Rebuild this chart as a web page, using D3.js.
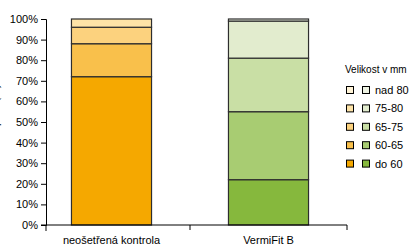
<!DOCTYPE html>
<html>
<script src="https://d3js.org/d3.v7.min.js"></script>
<style>
    body { margin: 0; background: #fff; }
    text { font-family: "Liberation Sans", Arial, sans-serif; fill: #000; }
</style>
<body></body>
<script>
    const width = 416, height = 248;
    const categories = ["neošetřená kontrola", "VermiFit B"];
    const sizes = ["do 60", "60-65", "65-75", "75-80", "nad 80"];
    // share (%) per size class, bottom to top
    const kontrola = [72, 16, 8, 4, 0];
    const vermifit = [22, 33, 26, 18, 1];
    const orangeColors = ["#f5a800", "#f9c04b", "#fcd27e", "#fde3a7", "#fff3d6"];
    const greenColors = ["#86b83d", "#a8cc72", "#c9dfa5", "#e2ecce", "#eef3e3"];
    const yTicks = [0, 10, 20, 30, 40, 50, 60, 70, 80, 90, 100];

    const svg = d3.select("body").append("svg").attr("width", width).attr("height", height);

    const x = d3.scaleBand().domain(categories).range([33, 347])
        .paddingInner(0.49).paddingOuter(0.245);
    const y = d3.scaleLinear().domain([0, 100]).range([225, 19]);

    // y axis title, mostly cut off at the left edge as in the original
    svg.append("text")
        .attr("transform", "translate(-1,122) rotate(-90)")
        .attr("text-anchor", "middle")
        .attr("font-size", 11)
        .text("Zastoupení (%)");

    const seriesVals = [kontrola, vermifit];
    const palettes = [orangeColors, greenColors];
    categories.forEach((c, i) => {
        let acc = 0;
        const segs = seriesVals[i].map((v, j) => {
            const s = { y0: acc, y1: acc + v, color: palettes[i][j] };
            acc += v;
            return s;
        });
        svg.append("g").selectAll("rect")
            .data(segs)
            .join("rect")
            .attr("x", x(c))
            .attr("width", x.bandwidth())
            .attr("y", d => y(d.y1))
            .attr("height", d => y(d.y0) - y(d.y1))
            .attr("fill", d => d.color)
            .attr("stroke", "#2e2e2e")
            .attr("stroke-width", 1.2);
    });

    // y axis
    const yAxis = svg.append("g")
        .attr("transform", "translate(46,0)")
        .call(d3.axisLeft(y).tickValues(yTicks).tickSize(5).tickPadding(3).tickFormat(d => d + "%"));
    yAxis.select(".domain").attr("stroke", "#000");
    yAxis.selectAll(".tick line").attr("stroke", "#000");
    yAxis.selectAll(".tick text").attr("font-size", 11).attr("font-family", "Liberation Sans, Arial, sans-serif");

    // x axis
    const xa = svg.append("g");
    xa.append("line").attr("x1", 41).attr("x2", 347).attr("y1", y(0)).attr("y2", y(0)).attr("stroke", "#000");
    xa.append("line").attr("x1", 46).attr("x2", 46).attr("y1", y(0)).attr("y2", y(0) + 6).attr("stroke", "#000");
    const bounds = [x(categories[1]) - x.step() * x.paddingInner() / 2, 347];
    xa.selectAll("line.tk").data(bounds).join("line").attr("class", "tk")
        .attr("x1", d => d).attr("x2", d => d)
        .attr("y1", y(0)).attr("y2", y(0) + 5).attr("stroke", "#000");
    xa.selectAll("text").data(categories).join("text")
        .attr("x", d => x(d) + x.bandwidth() / 2)
        .attr("y", 244)
        .attr("text-anchor", "middle")
        .attr("font-size", 11)
        .text(d => d);

    // legend
    const lg = svg.append("g");
    lg.append("text").attr("x", 345).attr("y", 73).attr("font-size", 10).text("Velikost v mm");
    const rows = sizes.map((s, j) => ({ s, j })).reverse();
    rows.forEach((r, k) => {
        const cy = 90 + k * 18.4;
        lg.append("rect").attr("x", 346.5).attr("y", cy - 3.5).attr("width", 7).attr("height", 7)
            .attr("fill", orangeColors[r.j]).attr("stroke", "#000").attr("stroke-width", 1);
        lg.append("rect").attr("x", 362.5).attr("y", cy - 3.5).attr("width", 7).attr("height", 7)
            .attr("fill", greenColors[r.j]).attr("stroke", "#000").attr("stroke-width", 1);
        lg.append("text").attr("x", 375).attr("y", cy + 4).attr("font-size", 11).text(r.s);
    });
</script>
</html>
